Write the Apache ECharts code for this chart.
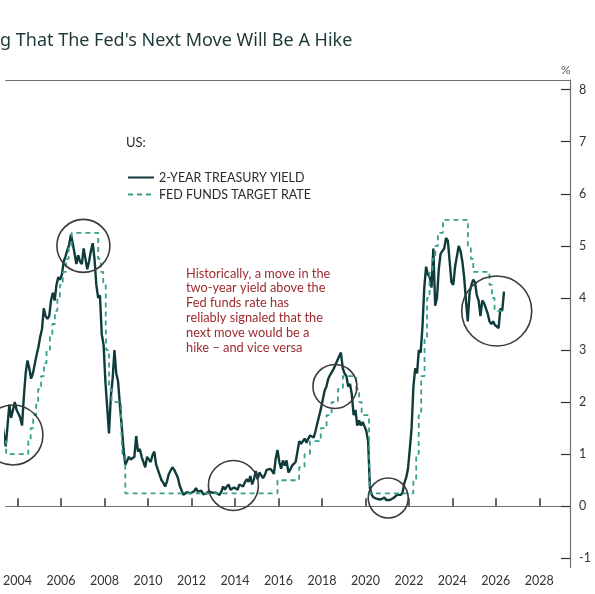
<!DOCTYPE html>
<html>
<head>
<meta charset="utf-8">
<title>Fed next move</title>
<script src="https://cdn.jsdelivr.net/npm/echarts@6/dist/echarts.min.js"></script>
<style>
  html, body { margin: 0; padding: 0; background: #fff; }
  #main { width: 595px; height: 594px; }
</style>
</head>
<body>
<div id="main"></div>
<script>
// 2-year treasury yield, monthly, starting Jan 2003
var yieldStart = 2003;
var yield2y = [
  1.74, 1.60, 1.55, 1.62, 1.38, 1.15, 1.55, 1.95, 1.70, 1.85, 2.00, 1.85,   // 2003
  1.78, 1.70, 1.55, 2.10, 2.55, 2.80, 2.65, 2.45, 2.55, 2.55, 2.90, 3.05,   // 2004
  3.25, 3.40, 3.80, 3.65, 3.60, 3.65, 3.95, 4.10, 3.95, 4.25, 4.40, 4.35,   // 2005
  4.45, 4.70, 4.80, 4.92, 5.02, 5.22, 5.05, 4.85, 4.65, 4.82, 4.70, 4.65,   // 2006
  4.95, 4.75, 4.55, 4.70, 4.90, 5.05, 4.75, 4.25, 4.00, 4.05, 3.30, 3.10,   // 2007
  2.40, 1.90, 1.40, 2.10, 2.45, 3.00, 2.55, 2.40, 1.95, 1.55, 1.10, 0.80,   // 2008
  0.80, 0.95, 0.90, 0.90, 0.95, 1.35, 1.05, 1.10, 0.95, 0.95, 0.75, 0.95,   // 2009
  0.95, 0.85, 0.98, 1.05, 0.80, 0.70, 0.60, 0.50, 0.45, 0.38, 0.48, 0.62,   // 2010
  0.62, 0.75, 0.70, 0.70, 0.55, 0.40, 0.38, 0.22, 0.20, 0.27, 0.25, 0.25,   // 2011
  0.24, 0.29, 0.35, 0.28, 0.28, 0.30, 0.23, 0.26, 0.25, 0.29, 0.26, 0.26,   // 2012
  0.26, 0.26, 0.25, 0.22, 0.28, 0.38, 0.32, 0.38, 0.42, 0.32, 0.30, 0.36,   // 2013
  0.38, 0.32, 0.42, 0.42, 0.38, 0.46, 0.52, 0.47, 0.58, 0.42, 0.52, 0.68,   // 2014
  0.52, 0.65, 0.62, 0.54, 0.60, 0.70, 0.70, 0.72, 0.68, 0.62, 0.92, 1.08,   // 2015
  0.85, 0.72, 0.88, 0.78, 0.88, 0.65, 0.70, 0.78, 0.78, 0.85, 1.05, 1.25,   // 2016
  1.20, 1.22, 1.30, 1.22, 1.30, 1.36, 1.36, 1.32, 1.45, 1.60, 1.74, 1.88,   // 2017
  2.05, 2.22, 2.30, 2.45, 2.52, 2.55, 2.64, 2.63, 2.80, 2.88, 2.95, 2.65,   // 2018
  2.55, 2.50, 2.30, 2.35, 2.15, 1.75, 1.85, 1.55, 1.65, 1.55, 1.62, 1.60,   // 2019
  1.45, 1.25, 0.35, 0.22, 0.17, 0.18, 0.14, 0.14, 0.13, 0.15, 0.17, 0.12,   // 2020
  0.12, 0.12, 0.15, 0.16, 0.15, 0.22, 0.20, 0.22, 0.26, 0.45, 0.55, 0.72,   // 2021
  1.10, 1.50, 2.30, 2.65, 2.55, 3.00, 2.95, 3.45, 4.20, 4.60, 4.45, 4.40,   // 2022
  4.20, 4.95, 3.85, 4.00, 4.55, 4.85, 4.85, 4.95, 5.15, 5.10, 4.70, 4.30,   // 2023
  4.25, 4.60, 4.60, 5.00, 4.90, 4.70, 4.40, 3.95, 3.55, 4.10, 4.25, 4.35,   // 2024
  4.30, 4.05, 3.95, 3.65, 3.95, 3.90, 3.90, 3.70, 3.55, 3.50, 3.55, 3.48,   // 2025
  3.48, 3.42, 3.80, 3.75, 4.12                                              // 2026
];

// fed funds target rate (upper bound), value from each change date
var fedDates = [
  '2003-01-01', '2003-06-25', '2004-06-30', '2004-08-10', '2004-09-21', '2004-11-10',
  '2004-12-14', '2005-02-02', '2005-03-22', '2005-05-03', '2005-06-30', '2005-08-09',
  '2005-09-20', '2005-11-01', '2005-12-13', '2006-01-31', '2006-03-28', '2006-05-10',
  '2006-06-29', '2007-09-18', '2007-10-31', '2007-12-11', '2008-01-22', '2008-01-30',
  '2008-03-18', '2008-04-30', '2008-10-08', '2008-10-29', '2008-12-16', '2015-12-16',
  '2016-12-14', '2017-03-15', '2017-06-14', '2017-12-13', '2018-03-21', '2018-06-13',
  '2018-09-26', '2018-12-19', '2019-07-31', '2019-09-18', '2019-10-30', '2020-03-03',
  '2020-03-15', '2022-03-16', '2022-05-04', '2022-06-15', '2022-07-27', '2022-09-21',
  '2022-11-02', '2022-12-14', '2023-02-01', '2023-03-22', '2023-05-03', '2023-07-26',
  '2024-09-18', '2024-11-07', '2024-12-18', '2025-09-17', '2025-10-29', '2025-12-10',
  '2026-05-01'
];
var fedRate = [
  1.25, 1.00, 1.25, 1.50, 1.75, 2.00,
  2.25, 2.50, 2.75, 3.00, 3.25, 3.50,
  3.75, 4.00, 4.25, 4.50, 4.75, 5.00,
  5.25, 4.75, 4.50, 4.25, 3.50, 3.00,
  2.25, 2.00, 1.50, 1.00, 0.25, 0.50,
  0.75, 1.00, 1.25, 1.50, 1.75, 2.00,
  2.25, 2.50, 2.25, 2.00, 1.75, 1.25,
  0.25, 0.50, 1.00, 1.75, 2.50, 3.25,
  4.00, 4.50, 4.75, 5.00, 5.25, 5.50,
  5.00, 4.75, 4.50, 4.25, 4.00, 3.75,
  3.75
];

var yearTicks = [2004, 2006, 2008, 2010, 2012, 2014, 2016, 2018, 2020, 2022, 2024, 2026, 2028];
var pctTicks = [-1, 0, 1, 2, 3, 4, 5, 6, 7, 8];

// circled spots: [year, value, radius px]
var circles = [
  [2003.79, 1.37, 30],
  [2007.03, 5.00, 26.5],
  [2013.93, 0.40, 25],
  [2018.60, 2.30, 22],
  [2021.05, 0.16, 20],
  [2026.04, 3.75, 35]
];

var noteText = 'Historically, a move in the\ntwo-year yield above the\nFed funds rate has\nreliably signaled that the\nnext move would be a\nhike \u2013 and vice versa';

function toYear(s) {
  var p = s.split('-');
  var y = +p[0];
  var start = Date.UTC(y, 0, 1);
  var end = Date.UTC(y + 1, 0, 1);
  return y + (Date.UTC(y, +p[1] - 1, +p[2]) - start) / (end - start);
}

var yieldData = [];
for (var i = 0; i < yield2y.length; i++) {
  yieldData.push([yieldStart + Math.floor(i / 12) + ((i % 12) + 0.5) / 12, yield2y[i]]);
}
var fedData = [];
for (var j = 0; j < fedDates.length; j++) {
  fedData.push([toYear(fedDates[j]), fedRate[j]]);
}

var darkLine = '#0f3b3a';
var fedColor = '#37a08b';
var axisGray = '#707070';
var xMin = 2003.454, xMax = 2029.41;

var chart = echarts.init(document.getElementById('main'));
var option = {
  animation: false,
  backgroundColor: '#fff',
  title: {
    text: "g That The Fed's Next Move Will Be A Hike",
    left: 0, top: 32, padding: 0,
    textStyle: { fontFamily: 'Noto Sans', fontSize: 18, fontWeight: 'normal', color: '#1e3838' }
  },
  legend: {
    orient: 'vertical', left: 127, top: 171, padding: 0,
    itemWidth: 26, itemHeight: 10, itemGap: 4,
    itemStyle: { opacity: 0 },
    textStyle: { fontFamily: 'Lato', fontSize: 12.5, color: '#2a2a2a' },
    data: ['2-YEAR TREASURY YIELD', 'FED FUNDS TARGET RATE']
  },
  grid: { left: 0, right: 25, top: 80, bottom: 26.7 },
  xAxis: [
    {
      type: 'value', min: xMin, max: xMax,
      axisLine: { lineStyle: { color: axisGray, width: 1.2 } },
      axisTick: { inside: true, length: 8, customValues: yearTicks, lineStyle: { color: '#333', width: 1.5 } },
      axisLabel: { customValues: yearTicks, margin: 7, fontFamily: 'Lato', fontSize: 12.5, color: '#333',
        formatter: function (v) { return String(v); } },
      splitLine: { show: false }
    },
    {
      // top frame line only
      type: 'value', position: 'top', min: xMin, max: xMax,
      axisLine: { show: true, lineStyle: { color: axisGray, width: 1.2 } },
      axisTick: { show: false }, axisLabel: { show: false }, splitLine: { show: false }
    }
  ],
  yAxis: {
    type: 'value', position: 'right', min: -1.171, max: 8.184,
    axisLine: { show: true, lineStyle: { color: axisGray, width: 1.2 } },
    axisTick: { show: true, inside: true, length: 9, customValues: pctTicks, lineStyle: { color: '#333', width: 1.2 } },
    axisLabel: { customValues: pctTicks, margin: 9, fontFamily: 'Lato', fontSize: 12.5, color: '#333' },
    splitLine: { show: false }
  },
  series: [
    {
      name: '2-YEAR TREASURY YIELD', type: 'line', data: yieldData,
      symbol: 'none', z: 3,
      lineStyle: { color: darkLine, width: 2.4 },
      itemStyle: { color: darkLine }
    },
    {
      name: 'FED FUNDS TARGET RATE', type: 'line', step: 'end', data: fedData,
      symbol: 'none', z: 4,
      lineStyle: { color: fedColor, width: 1.8, type: [5, 4] },
      itemStyle: { color: fedColor }
    }
  ]
};
chart.setOption(option);

// annotations: texts plus ellipses placed through the axes
var graphics = [
  { id: 'pct', type: 'text', left: 561, top: 64,
    style: { text: '%', fill: '#555', font: '12px Lato' } },
  { id: 'us', type: 'text', left: 126, top: 136,
    style: { text: 'US:', fill: '#2a2a2a', font: '13px Lato' } },
  { id: 'note', type: 'text', left: 186, top: 266,
    style: { text: noteText, fill: '#9c2a2f', font: '12.8px Lato', lineHeight: 14.8 } }
];
for (var k = 0; k < circles.length; k++) {
  var c = chart.convertToPixel({ xAxisIndex: 0, yAxisIndex: 0 }, [circles[k][0], circles[k][1]]);
  graphics.push({
    id: 'circle' + k, type: 'ellipse', z: 10,
    shape: { cx: c[0], cy: c[1], rx: circles[k][2], ry: circles[k][2] },
    style: { fill: null, stroke: '#3b3b3b', lineWidth: 1.6 }
  });
}
chart.setOption({ graphic: graphics });
</script>
</body>
</html>
